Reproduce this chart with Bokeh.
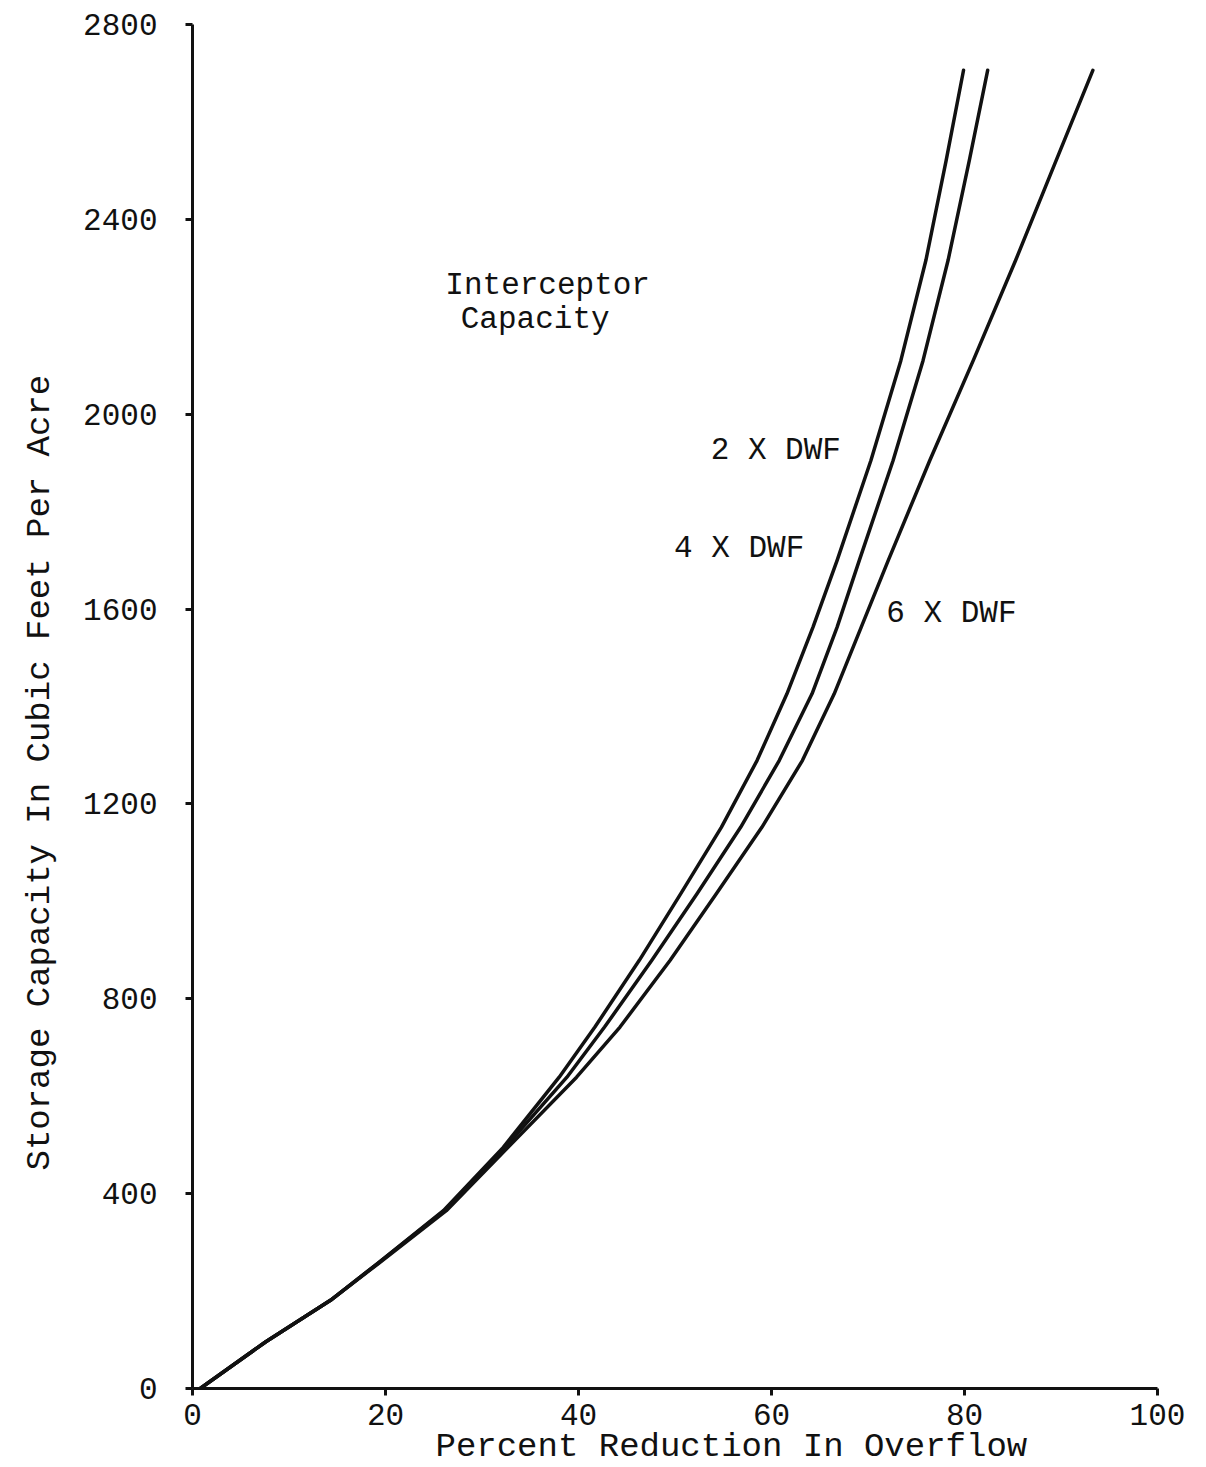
from bokeh.plotting import figure
from bokeh.models import FixedTicker, ColumnDataSource, Range1d, Title
from bokeh.core.properties import value
from bokeh.embed import file_html
from bokeh.resources import INLINE

# ---- data ----
storage = [0, 96, 181, 257, 365, 495, 639, 742, 879, 1016, 1152, 1289, 1426, 1563,
           1700, 1905, 2110, 2316, 2521, 2706]
pct_2x = [0.8, 7.6, 14.3, 19.2, 26.0, 32.2, 38.0, 41.7, 46.3, 50.6, 54.8, 58.5, 61.6, 64.3,
          66.8, 70.3, 73.4, 76.0, 78.1, 79.9]
pct_4x = [0.8, 7.6, 14.3, 19.2, 26.1, 32.4, 38.8, 42.7, 47.6, 52.3, 56.8, 60.8, 64.2, 66.8,
          69.1, 72.6, 75.7, 78.3, 80.5, 82.4]
pct_6x = [0.8, 7.6, 14.3, 19.3, 26.3, 32.7, 39.8, 44.3, 49.5, 54.3, 59.0, 63.2, 66.5, 69.3,
          72.1, 76.4, 80.9, 85.3, 89.5, 93.3]

x_ticks = [0, 20, 40, 60, 80, 100]
y_ticks = [0, 400, 800, 1200, 1600, 2000, 2400, 2800]

note_text = ["Interceptor", "Capacity", "2 X DWF", "4 X DWF", "6 X DWF"]
note_x = [26.2, 27.8, 53.7, 49.9, 71.9]
note_y = [2264, 2195, 1926, 1724, 1591]

x_title = "Percent Reduction In Overflow"
y_title = "Storage Capacity In Cubic Feet Per Acre"

FONT = "Liberation Mono"
INK = "#111111"

p = figure(width=1206, height=1467, output_backend="svg", toolbar_location=None,
           x_range=Range1d(0, 100), y_range=Range1d(0, 2800),
           min_border_left=192, min_border_right=49, min_border_top=24, min_border_bottom=79)
p.outline_line_color = None
p.xgrid.visible = False
p.ygrid.visible = False
p.background_fill_color = "white"
p.border_fill_color = "white"

for ax in (p.xaxis, p.yaxis):
    ax.axis_line_width = 3
    ax.axis_line_color = INK
    ax.major_tick_line_width = 3
    ax.major_tick_line_color = INK
    ax.major_tick_out = 7
    ax.major_tick_in = 0
    ax.minor_tick_line_color = None
    ax.major_label_text_font = FONT
    ax.major_label_text_font_size = "31px"
    ax.major_label_text_color = INK

p.xaxis.ticker = FixedTicker(ticks=x_ticks)
p.yaxis.ticker = FixedTicker(ticks=y_ticks)
p.xaxis.major_label_standoff = 8
p.yaxis.major_label_standoff = 28

for xs in (pct_2x, pct_4x, pct_6x):
    p.line(xs, storage, line_color=INK, line_width=3.5, line_cap="round", line_join="round")

src = ColumnDataSource(dict(x=note_x, y=note_y, t=note_text))
p.text(x="x", y="y", text="t", source=src, text_font=value(FONT), text_font_size="31px",
       text_color=INK, text_align="left", text_baseline="middle")

p.add_layout(Title(text=x_title, align="left", offset=243, standoff=-3,
                   text_font=FONT, text_font_size="34px", text_font_style="normal",
                   text_color=INK), "below")
p.add_layout(Title(text=y_title, align="left", offset=218, standoff=40, vertical_align="top",
                   text_font=FONT, text_font_size="34px", text_font_style="normal",
                   text_color=INK), "left")

open("out.html", "w").write(file_html(p, INLINE))
